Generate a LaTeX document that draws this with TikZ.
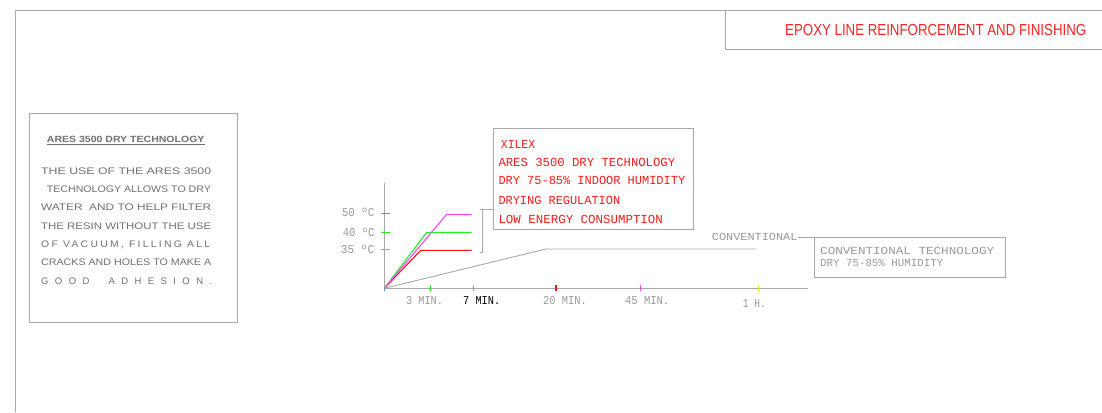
\documentclass[tikz,border=0pt]{standalone}
\usepackage{fontspec}
\usepackage{graphicx}
\setmainfont{Liberation Sans}
\newfontfamily\cadfont{Liberation Mono}
\newcommand{\fw}[2]{\resizebox{#1pt}{\height}{#2}}
\definecolor{framegray}{HTML}{A8A8A8}
\definecolor{txtgray}{HTML}{707070}
\definecolor{cadgray}{HTML}{999999}
\definecolor{titlered}{HTML}{FF2222}
\definecolor{cadred}{HTML}{FF1A1A}
\definecolor{cgreen}{HTML}{22EE22}
\definecolor{cmag}{HTML}{FF44FF}
\definecolor{cyel}{HTML}{E8E830}
\definecolor{cred}{HTML}{FF1010}
\begin{document}
\begin{tikzpicture}[x=1pt,y=-1pt,
  frame/.style={draw=framegray,line width=1.1pt},
  boxline/.style={draw=framegray,line width=0.9pt},
  axisline/.style={draw=framegray,line width=0.9pt},
  curve/.style={line width=1.1pt},
  tx/.style={inner sep=0pt,anchor=base west},
  bodytx/.style={tx,text=txtgray,font=\fontsize{9.5}{11}\selectfont},
  redtx/.style={tx,text=cadred,font=\cadfont\fontsize{12.3}{14}\selectfont},
  chtx/.style={tx,text=cadgray,font=\cadfont\fontsize{12}{14}\selectfont},
  convtx/.style={tx,text=cadgray,font=\cadfont\fontsize{10.8}{13}\selectfont},
  tick/.style={line width=1.2pt}]
\useasboundingbox (0,0) rectangle (1102,412);
% outer frame
\draw[frame] (15.5,412) -- (15.5,10.3) -- (1102,10.3);
\draw[frame] (725.7,10.3) -- (725.7,49.3) -- (1102,49.3);
\node[tx,text=titlered,font=\fontsize{16}{18}\selectfont] (title) at (785,35.7)
  {\fw{301}{EPOXY LINE REINFORCEMENT AND FINISHING}};
% left box
\node[boxline,anchor=north west,inner sep=0pt,minimum width=207.7pt,minimum height=208.4pt] (aresbox) at (29,113.3) {};
\node[tx,text=txtgray,font=\bfseries\fontsize{9}{10}\selectfont] (arestitle) at (46.7,142.6)
  {\fw{157.6}{\underline{ARES 3500 DRY TECHNOLOGY}}};
\node[bodytx] (l1) at (41,174.3) {\fw{170}{THE USE OF THE ARES 3500}};
\node[bodytx] (l2) at (46.7,192.3) {\fw{164}{TECHNOLOGY ALLOWS TO DRY}};
\node[bodytx] (l3) at (41,210.7) {\fw{170}{WATER\ \ AND TO HELP FILTER}};
\node[bodytx] (l4) at (41,229) {\fw{170}{THE RESIN WITHOUT THE USE}};
\node[bodytx] (l5) at (41,247.3) {\fw{169}{\addfontfeature{LetterSpace=22}OF VACUUM, FILLING ALL}};
\node[bodytx] (l6) at (41,265.7) {\fw{170}{CRACKS AND HOLES TO MAKE A}};
\node[bodytx] (l7) at (41,284) {\makebox[171pt][s]{G O O D\ \ \ A D H E S I O N .}};
% axes
\draw[axisline] (384.3,288.3) -- (384.3,182.7);
\draw[axisline] (384.3,288.3) -- (808,288.3);
\draw[cyan,line width=1pt] (384.3,288.3) -- (384.3,290.5);
% y ticks and labels
\draw[tick,cmag] (381,213.5) -- (390,213.5);
\draw[tick,cgreen] (381,232.3) -- (390,232.3);
\draw[tick,framegray] (381,249.3) -- (390,249.3);
\node[chtx] (y50) at (341.7,216.7) {\fw{32.6}{50 ºC}};
\node[chtx] (y40) at (342.7,236) {\fw{31.6}{40 ºC}};
\node[chtx] (y35) at (340.7,253.3) {\fw{33.3}{35 ºC}};
% x ticks
\draw[tick,cgreen] (430.7,285) -- (430.7,291);
\draw[tick,cgreen] (473.7,285) -- (473.7,291);
\draw[tick,cred] (556,285) -- (556,291);
\draw[tick,cmag] (640.7,285) -- (640.7,291);
\draw[tick,cyel] (758.3,285) -- (758.3,291);
\node[chtx] (x3) at (406,304) {\fw{36.7}{3 MIN.}};
\node[tx,text=black,font=\cadfont\fontsize{12}{14}\selectfont] (x7) at (463,304.3) {\fw{37}{7 MIN.}};
\node[chtx] (x20) at (543,304) {\fw{43.7}{20 MIN.}};
\node[chtx] (x45) at (625,304) {\fw{44}{45 MIN.}};
\node[chtx] (x1h) at (742.7,307) {\fw{23}{1 H.}};
% curves
\draw[curve,framegray,line width=0.9pt] (384.3,288.3) -- (546,249) -- (756,249);
\draw[curve,cred] (384.3,288.3) -- (420.7,250.3) -- (471.7,250.3);
\draw[curve,cgreen] (384.3,288.3) -- (426.7,232.3) -- (471.7,232.3);
\draw[curve,cmag] (384.3,288.3) -- (446.7,214.3) -- (471.7,214.3);
% xilex box
\node[boxline,anchor=north west,inner sep=0pt,minimum width=200pt,minimum height=101pt] (xilex) at (493.3,128.3) {};
\node[redtx] (r1) at (500.7,148.3) {\fw{34.3}{XILEX}};
\node[redtx] (r2) at (498.3,166) {\fw{176.7}{ARES 3500 DRY TECHNOLOGY}};
\node[redtx] (r3) at (498.3,184.3) {\fw{186.7}{DRY 75-85\% INDOOR HUMIDITY}};
\node[redtx] (r4) at (498.3,204.3) {\fw{121.7}{DRYING REGULATION}};
\node[redtx] (r5) at (498.3,223.3) {\fw{164.4}{LOW ENERGY CONSUMPTION}};
% bracket
\coordinate (brt) at (482.7,209.3);
\coordinate (brb) at (482.7,252.7);
\draw[boxline] (480,252.7) -- (brb) -- (brt) -- (480,209.3);
\draw[boxline] (brt) -- (brt -| xilex.west);
% conventional
\node[boxline,anchor=north west,inner sep=0pt,minimum width=190.7pt,minimum height=39.4pt] (convbox) at (814.3,237.3) {};
\node[convtx] (c1) at (820,254.3) {\fw{174}{CONVENTIONAL TECHNOLOGY}};
\node[convtx] (c2) at (820,266.3) {\fw{123}{DRY 75-85\% HUMIDITY}};
\node[convtx] (conv) at (711.7,240.7) {\fw{85.6}{CONVENTIONAL}};
\draw[boxline] (conv.east) -- (conv.east -| convbox.west);
\end{tikzpicture}
\end{document}
